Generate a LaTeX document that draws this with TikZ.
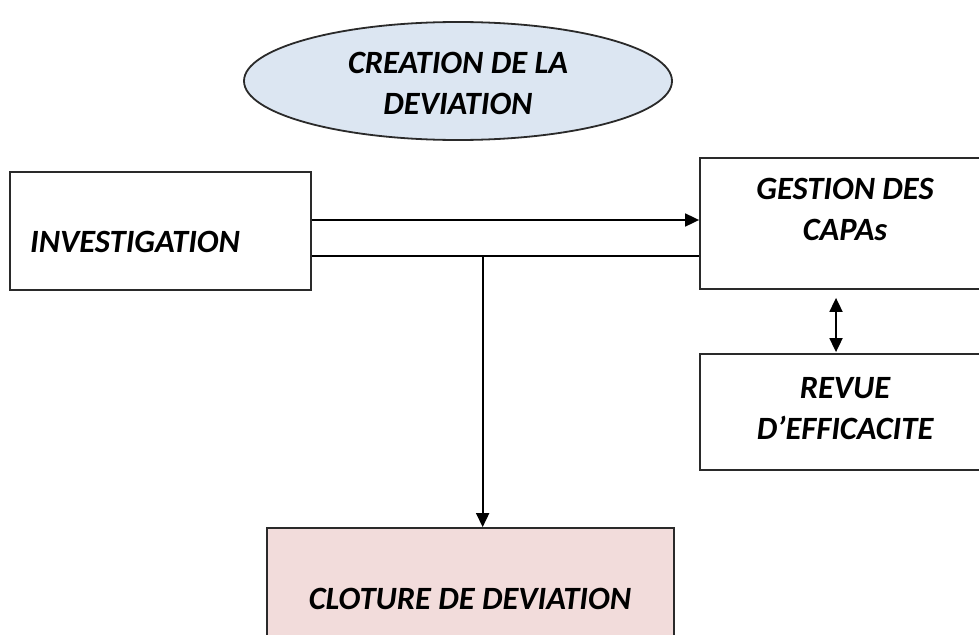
\documentclass[tikz,border=0pt]{standalone}
\usepackage{fontspec}
\setmainfont{Carlito}
\usetikzlibrary{shapes.geometric,arrows.meta,calc}
\definecolor{ellfill}{HTML}{DCE6F2}
\definecolor{clofill}{HTML}{F2DCDB}
\definecolor{edge}{HTML}{2A2A2A}
\tikzset{
  boxshape/.style={draw=edge,line width=1.8pt,rectangle,inner sep=0pt},
  lbl/.style={font=\fontsize{32.5}{41}\selectfont\bfseries\itshape,align=center,inner sep=0pt,text=black},
  conn/.style={draw=black,line width=1.8pt},
  arr/.style={conn,-{Triangle[length=14pt,width=13pt]}},
  dblarr/.style={conn,{Triangle[length=14pt,width=13pt]}-{Triangle[length=14pt,width=13pt]}}
}
\begin{document}
\begin{tikzpicture}[x=1pt,y=-1pt]
\useasboundingbox (0,0) rectangle (979,634);
\clip (0,0) rectangle (979,634);
\fill[white] (0,0) rectangle (979,634);
% shapes
\node[ellipse,draw=edge,line width=1.8pt,fill=ellfill,minimum width=428pt,minimum height=118pt,inner sep=0pt] (cre) at (458,81) {};
\node[boxshape,minimum width=301pt,minimum height=118pt] (inv) at (160.5,231) {};
\node[boxshape,minimum width=280pt,minimum height=131pt] (ges) at (840,223.5) {};
\node[boxshape,minimum width=280pt,minimum height=116pt] (rev) at (840,412) {};
\node[boxshape,fill=clofill,minimum width=407pt,minimum height=140pt] (clo) at (470.5,598) {};
% texts
\node[lbl] (creT) at (458,83) {CREATION DE LA\\DEVIATION};
\node[lbl,anchor=west] (invT) at (30,242) {INVESTIGATION};
\node[lbl] (gesT) at (845,209) {GESTION DES\\CAPAs};
\node[lbl] (revT) at (845,409) {REVUE\\D’EFFICACITE};
\node[lbl] (cloT) at (470,599) {CLOTURE DE DEVIATION};
% connectors
\draw[arr] ([yshift=11pt]inv.east) -- ([yshift=11pt]inv.east -| ges.west);
\draw[conn] ([yshift=-25pt]inv.east) -- ([yshift=-25pt]inv.east -| ges.west);
\coordinate (j) at ($([yshift=-25pt]inv.east)!0.441!([yshift=-25pt]inv.east -| ges.west)$);
\draw[arr] (j) -- (j |- clo.north);
\draw[dblarr,shorten <=8pt,shorten >=1pt] ([xshift=-4pt]ges.south) -- ([xshift=-4pt]ges.south |- rev.north);
\end{tikzpicture}
\end{document}
